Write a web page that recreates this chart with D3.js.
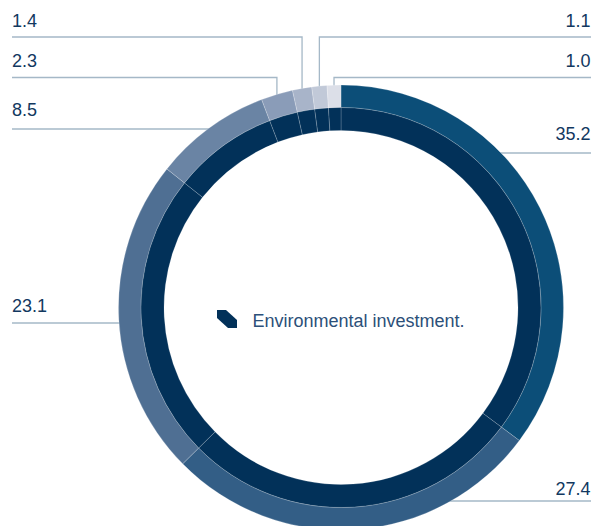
<!DOCTYPE html>
<html>
<head>
<meta charset="utf-8">
<script src="https://cdn.jsdelivr.net/npm/d3@7"></script>
<style>
  html, body { margin: 0; padding: 0; background: #fff; }
  svg { display: block; }
  text { font-family: "Liberation Sans", Arial, sans-serif; }
</style>
</head>
<body>
<svg id="chart" width="591" height="526"></svg>
<script>
// ---- data ----
const categories = ["A", "B", "C", "D", "E", "F", "G", "H"];
const values = [35.2, 27.4, 23.1, 8.5, 2.3, 1.4, 1.1, 1.0];
const valueLabels = ["35.2", "27.4", "23.1", "8.5", "2.3", "1.4", "1.1", "1.0"];
const sliceColors = ["#0c4e78", "#335e86", "#4f6f93", "#6a84a4", "#8a9cb8", "#a8b4c9", "#c1c9d8", "#dcdfe8"];
const legendLabel = "Environmental investment.";

// ---- layout ----
const W = 591, H = 526;
const cx = 341, cy = 307.5;
const R = 222.5, Rmid = 200, Rin = 177;
const innerColor = "#023159";
const lineColor = "#a5b8c7";
const textColor = "#12385f";

// label placement (side, text baseline, leader-line y, elbow at slice middle)
const labelLayout = [
  { side: "right", textY: 140, lineY: 153, elbow: false },
  { side: "right", textY: 495, lineY: 501, elbow: false },
  { side: "left",  textY: 311.5, lineY: 323, elbow: false },
  { side: "left",  textY: 116, lineY: 129, elbow: false },
  { side: "left",  textY: 67, lineY: 77.5, elbow: true },
  { side: "left",  textY: 26.5, lineY: 37, elbow: true },
  { side: "right", textY: 26.5, lineY: 37, elbow: true },
  { side: "right", textY: 67, lineY: 77.5, elbow: true }
];

const svg = d3.select("#chart");

const data = categories.map((c, i) => ({ cat: c, value: values[i], label: valueLabels[i], color: sliceColors[i], lay: labelLayout[i] }));

const pie = d3.pie().sort(null).value(d => d.value).startAngle(0).endAngle(2 * Math.PI);
const arcs = pie(data);

// leader lines (behind ring)
const rLine = R - 4;
const lines = svg.append("g").attr("fill", "none").attr("stroke", lineColor).attr("stroke-width", 1.3);
arcs.forEach(a => {
  const L = a.data.lay;
  const mid = (a.startAngle + a.endAngle) / 2;
  let pts;
  const edgeX = L.side === "left" ? 12 : W;
  if (L.elbow) {
    const x = cx + R * Math.sin(mid);
    const yEnd = cy - Math.sqrt(rLine * rLine - (x - cx) * (x - cx));
    pts = [[edgeX, L.lineY], [x, L.lineY], [x, yEnd]];
  } else {
    const dy = L.lineY - cy;
    const dx = Math.sqrt(rLine * rLine - dy * dy);
    const x = L.side === "left" ? cx - dx : cx + dx;
    pts = [[edgeX, L.lineY], [x, L.lineY]];
  }
  lines.append("path").attr("d", d3.line()(pts));
});

// rings
const outerArc = d3.arc().innerRadius(Rmid).outerRadius(R);
const innerArc = d3.arc().innerRadius(Rin).outerRadius(Rmid);
const g = svg.append("g").attr("transform", `translate(${cx},${cy})`);
g.selectAll("path.outer").data(arcs).join("path")
  .attr("class", "outer")
  .attr("d", outerArc)
  .attr("fill", d => d.data.color)
  .attr("stroke", "rgba(255,255,255,0.35)")
  .attr("stroke-width", 0.6);
g.selectAll("path.inner").data(arcs).join("path")
  .attr("class", "inner")
  .attr("d", innerArc)
  .attr("fill", innerColor)
  .attr("stroke", "rgba(255,255,255,0.3)")
  .attr("stroke-width", 0.6);

// value labels
svg.append("g").selectAll("text").data(arcs).join("text")
  .attr("x", d => d.data.lay.side === "left" ? 12 : 590.5)
  .attr("y", d => d.data.lay.textY)
  .attr("text-anchor", d => d.data.lay.side === "left" ? "start" : "end")
  .attr("font-size", 18)
  .attr("fill", textColor)
  .text(d => d.data.label);

// legend in centre
const lg = svg.append("g");
lg.append("path")
  .attr("d", "M217,310 L226,310 L237,320 L237,328 L228,328 L217,318 Z")
  .attr("fill", innerColor);
lg.append("text")
  .attr("x", 252.5)
  .attr("y", 326.5)
  .attr("font-size", 18)
  .attr("fill", "#2c5079")
  .text(legendLabel);
</script>
</body>
</html>
